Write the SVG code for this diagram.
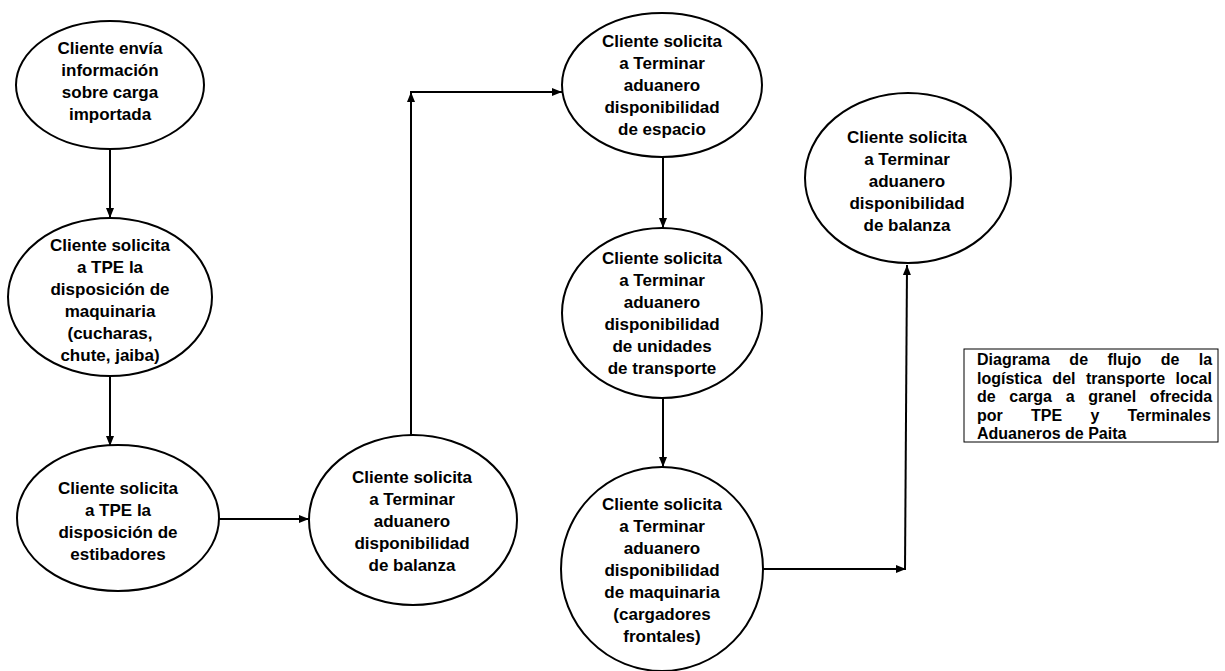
<svg xmlns="http://www.w3.org/2000/svg" width="1225" height="671" viewBox="0 0 1225 671">
<style>
.n ellipse{fill:#fff;stroke:#000;stroke-width:2}
.n text{font-family:"Liberation Sans",Arial,sans-serif;font-weight:bold;font-size:17px;text-anchor:middle;fill:#000}
.c line{stroke:#000;stroke-width:2;fill:none;marker-end:url(#ah)}
.box rect{fill:#fff;stroke:#000;stroke-width:1}
.box text{font-family:"Liberation Sans",Arial,sans-serif;font-weight:bold;font-size:16px;fill:#000}
</style>
<defs>
<marker id="ah" markerUnits="userSpaceOnUse" markerWidth="10" markerHeight="8" refX="10" refY="4" orient="auto">
<path d="M0,0 L10,4 L0,8 z" fill="#000"/>
</marker>
</defs>
<rect width="1225" height="671" fill="#fff"/>
<g id="connectors" class="c">
<line x1="110" y1="149" x2="110" y2="218"/>
<line x1="110" y1="376" x2="110" y2="446"/>
<line x1="219" y1="519" x2="309" y2="519"/>
<line x1="411" y1="435" x2="411" y2="92"/>
<line x1="410" y1="92" x2="562" y2="92"/>
<line x1="663" y1="157" x2="663" y2="228"/>
<line x1="663" y1="398" x2="663" y2="467"/>
<line x1="763" y1="569" x2="906" y2="569"/>
<line x1="905" y1="570" x2="907" y2="265"/>
</g>
<g id="n1" class="n">
<ellipse cx="110" cy="85" rx="94" ry="64"/>
<text><tspan x="110" y="54">Cliente envía</tspan><tspan x="110" y="76">información</tspan><tspan x="110" y="98">sobre carga</tspan><tspan x="110" y="120">importada</tspan></text>
</g>
<g id="n2" class="n">
<ellipse cx="110" cy="297" rx="102" ry="79"/>
<text><tspan x="110" y="251">Cliente solicita</tspan><tspan x="110" y="273">a TPE la</tspan><tspan x="110" y="295">disposición de</tspan><tspan x="110" y="317">maquinaria</tspan><tspan x="110" y="339">(cucharas,</tspan><tspan x="110" y="361">chute, jaiba)</tspan></text>
</g>
<g id="n3" class="n">
<ellipse cx="118" cy="518" rx="101" ry="73"/>
<text><tspan x="118" y="494">Cliente solicita</tspan><tspan x="118" y="516">a TPE la</tspan><tspan x="118" y="538">disposición de</tspan><tspan x="118" y="560">estibadores</tspan></text>
</g>
<g id="n4" class="n">
<ellipse cx="413" cy="520" rx="104" ry="85"/>
<text><tspan x="412" y="483">Cliente solicita</tspan><tspan x="412" y="505">a Terminar</tspan><tspan x="412" y="527">aduanero</tspan><tspan x="412" y="549">disponibilidad</tspan><tspan x="412" y="571">de balanza</tspan></text>
</g>
<g id="n5" class="n">
<ellipse cx="662" cy="85" rx="100" ry="72"/>
<text><tspan x="662" y="47">Cliente solicita</tspan><tspan x="662" y="69">a Terminar</tspan><tspan x="662" y="91">aduanero</tspan><tspan x="662" y="113">disponibilidad</tspan><tspan x="662" y="135">de espacio</tspan></text>
</g>
<g id="n6" class="n">
<ellipse cx="662" cy="313" rx="100" ry="85"/>
<text><tspan x="662" y="264">Cliente solicita</tspan><tspan x="662" y="286">a Terminar</tspan><tspan x="662" y="308">aduanero</tspan><tspan x="662" y="330">disponibilidad</tspan><tspan x="662" y="352">de unidades</tspan><tspan x="662" y="374">de transporte</tspan></text>
</g>
<g id="n7" class="n">
<ellipse cx="662" cy="569" rx="101" ry="102"/>
<text><tspan x="662" y="510">Cliente solicita</tspan><tspan x="662" y="532">a Terminar</tspan><tspan x="662" y="554">aduanero</tspan><tspan x="662" y="576">disponibilidad</tspan><tspan x="662" y="598">de maquinaria</tspan><tspan x="662" y="620">(cargadores</tspan><tspan x="662" y="642">frontales)</tspan></text>
</g>
<g id="n8" class="n">
<ellipse cx="908" cy="178" rx="103" ry="85"/>
<text><tspan x="907" y="143">Cliente solicita</tspan><tspan x="907" y="165">a Terminar</tspan><tspan x="907" y="187">aduanero</tspan><tspan x="907" y="209">disponibilidad</tspan><tspan x="907" y="231">de balanza</tspan></text>
</g>
<g id="title" class="box">
<rect x="964" y="349" width="254" height="93"/>
<text x="977" y="365" word-spacing="15">Diagrama de flujo de la</text>
<text x="977" y="383.5" word-spacing="6">logística del transporte local</text>
<text x="977" y="402" word-spacing="9.2">de carga a granel ofrecida</text>
<text x="977" y="420.5" word-spacing="23.8">por TPE y Terminales</text>
<text x="977" y="439">Aduaneros de Paita</text>
</g>
</svg>
